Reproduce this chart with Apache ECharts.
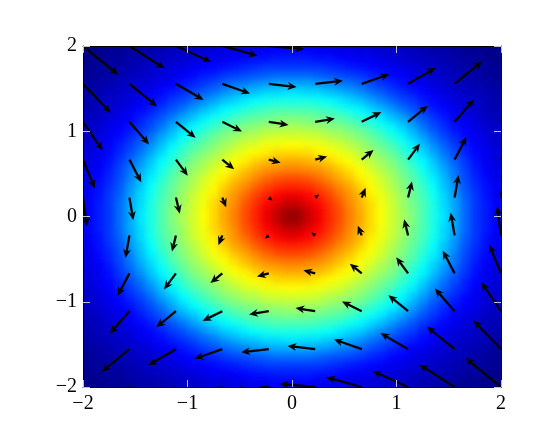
<!DOCTYPE html>
<html>
<head>
<meta charset="utf-8">
<script src="https://cdn.jsdelivr.net/npm/echarts@6/dist/echarts.min.js"></script>
<style>
html,body{margin:0;padding:0;background:#ffffff;}
#chart{width:540px;height:438px;}
</style>
</head>
<body>
<div id="chart"></div>
<script>
// Axis ticks
const xTickValues = [-2, -1, 0, 1, 2];
const yTickValues = [-2, -1, 0, 1, 2];

// Heatmap cell centres (x left->right, y top->bottom)
const cellX = [-1.95,-1.85,-1.75,-1.65,-1.55,-1.45,-1.35,-1.25,-1.15,-1.05,-0.95,-0.85,-0.75,-0.65,-0.55,-0.45,-0.35,-0.25,-0.15,-0.05,0.05,0.15,0.25,0.35,0.45,0.55,0.65,0.75,0.85,0.95,1.05,1.15,1.25,1.35,1.45,1.55,1.65,1.75,1.85,1.95];
const cellY = [1.95,1.85,1.75,1.65,1.55,1.45,1.35,1.25,1.15,1.05,0.95,0.85,0.75,0.65,0.55,0.45,0.35,0.25,0.15,0.05,-0.05,-0.15,-0.25,-0.35,-0.45,-0.55,-0.65,-0.75,-0.85,-0.95,-1.05,-1.15,-1.25,-1.35,-1.45,-1.55,-1.65,-1.75,-1.85,-1.95];

// Colour values (0..100), rows top -> bottom
const Z = [
[1,1,2,2,3,4,4,5,6,7,7,8,9,9,10,10,11,11,12,12,12,12,11,11,10,10,9,9,8,7,7,6,5,4,4,3,2,2,1,1],
[1,2,3,3,4,5,6,6,7,8,9,10,11,11,12,13,14,14,15,15,15,15,14,14,13,12,11,11,10,9,8,7,6,6,5,4,3,3,2,1],
[2,3,3,4,5,6,7,8,9,10,11,12,13,14,15,16,17,18,18,18,18,18,18,17,16,15,14,13,12,11,10,9,8,7,6,5,4,3,3,2],
[2,3,4,5,6,7,8,9,10,12,13,15,16,18,19,20,21,22,23,23,23,23,22,21,20,19,18,16,15,13,12,10,9,8,7,6,5,4,3,2],
[3,4,5,6,7,8,9,11,12,14,16,18,20,22,24,25,27,28,29,29,29,29,28,27,25,24,22,20,18,16,14,12,11,9,8,7,6,5,4,3],
[4,5,6,7,8,10,11,13,15,17,19,22,24,27,29,31,32,34,34,35,35,34,34,32,31,29,27,24,22,19,17,15,13,11,10,8,7,6,5,4],
[4,6,7,8,9,11,13,15,18,20,23,26,29,32,34,36,38,39,40,40,40,40,39,38,36,34,32,29,26,23,20,18,15,13,11,9,8,7,6,4],
[5,6,8,9,11,13,15,18,21,24,28,31,34,37,39,41,43,44,45,45,45,45,44,43,41,39,37,34,31,28,24,21,18,15,13,11,9,8,6,5],
[6,7,9,10,12,15,18,21,25,29,32,36,39,41,44,46,47,48,49,50,50,49,48,47,46,44,41,39,36,32,29,25,21,18,15,12,10,9,7,6],
[7,8,10,12,14,17,20,24,29,33,37,40,43,46,48,50,51,53,53,54,54,53,53,51,50,48,46,43,40,37,33,29,24,20,17,14,12,10,8,7],
[7,9,11,13,16,19,23,28,32,37,40,44,47,50,52,54,55,57,58,58,58,58,57,55,54,52,50,47,44,40,37,32,28,23,19,16,13,11,9,7],
[8,10,12,15,18,22,26,31,36,40,44,47,50,53,55,58,59,61,61,62,62,61,61,59,58,55,53,50,47,44,40,36,31,26,22,18,15,12,10,8],
[9,11,13,16,20,24,29,34,39,43,47,50,53,56,59,61,63,64,66,66,66,66,64,63,61,59,56,53,50,47,43,39,34,29,24,20,16,13,11,9],
[9,11,14,18,22,27,32,37,41,46,50,53,56,59,62,64,67,69,70,71,71,70,69,67,64,62,59,56,53,50,46,41,37,32,27,22,18,14,11,9],
[10,12,15,19,24,29,34,39,44,48,52,55,59,62,65,68,71,73,74,75,75,74,73,71,68,65,62,59,55,52,48,44,39,34,29,24,19,15,12,10],
[10,13,16,20,25,31,36,41,46,50,54,58,61,64,68,71,74,77,79,80,80,79,77,74,71,68,64,61,58,54,50,46,41,36,31,25,20,16,13,10],
[11,14,17,21,27,32,38,43,47,51,55,59,63,67,71,74,78,81,83,84,84,83,81,78,74,71,67,63,59,55,51,47,43,38,32,27,21,17,14,11],
[11,14,18,22,28,34,39,44,48,53,57,61,64,69,73,77,81,84,87,89,89,87,84,81,77,73,69,64,61,57,53,48,44,39,34,28,22,18,14,11],
[12,15,18,23,29,34,40,45,49,53,58,61,66,70,74,79,83,87,90,93,93,90,87,83,79,74,70,66,61,58,53,49,45,40,34,29,23,18,15,12],
[12,15,18,23,29,35,40,45,50,54,58,62,66,71,75,80,84,89,93,97,97,93,89,84,80,75,71,66,62,58,54,50,45,40,35,29,23,18,15,12],
[12,15,18,23,29,35,40,45,50,54,58,62,66,71,75,80,84,89,93,97,97,93,89,84,80,75,71,66,62,58,54,50,45,40,35,29,23,18,15,12],
[12,15,18,23,29,34,40,45,49,53,58,61,66,70,74,79,83,87,90,93,93,90,87,83,79,74,70,66,61,58,53,49,45,40,34,29,23,18,15,12],
[11,14,18,22,28,34,39,44,48,53,57,61,64,69,73,77,81,84,87,89,89,87,84,81,77,73,69,64,61,57,53,48,44,39,34,28,22,18,14,11],
[11,14,17,21,27,32,38,43,47,51,55,59,63,67,71,74,78,81,83,84,84,83,81,78,74,71,67,63,59,55,51,47,43,38,32,27,21,17,14,11],
[10,13,16,20,25,31,36,41,46,50,54,58,61,64,68,71,74,77,79,80,80,79,77,74,71,68,64,61,58,54,50,46,41,36,31,25,20,16,13,10],
[10,12,15,19,24,29,34,39,44,48,52,55,59,62,65,68,71,73,74,75,75,74,73,71,68,65,62,59,55,52,48,44,39,34,29,24,19,15,12,10],
[9,11,14,18,22,27,32,37,41,46,50,53,56,59,62,64,67,69,70,71,71,70,69,67,64,62,59,56,53,50,46,41,37,32,27,22,18,14,11,9],
[9,11,13,16,20,24,29,34,39,43,47,50,53,56,59,61,63,64,66,66,66,66,64,63,61,59,56,53,50,47,43,39,34,29,24,20,16,13,11,9],
[8,10,12,15,18,22,26,31,36,40,44,47,50,53,55,58,59,61,61,62,62,61,61,59,58,55,53,50,47,44,40,36,31,26,22,18,15,12,10,8],
[7,9,11,13,16,19,23,28,32,37,40,44,47,50,52,54,55,57,58,58,58,58,57,55,54,52,50,47,44,40,37,32,28,23,19,16,13,11,9,7],
[7,8,10,12,14,17,20,24,29,33,37,40,43,46,48,50,51,53,53,54,54,53,53,51,50,48,46,43,40,37,33,29,24,20,17,14,12,10,8,7],
[6,7,9,10,12,15,18,21,25,29,32,36,39,41,44,46,47,48,49,50,50,49,48,47,46,44,41,39,36,32,29,25,21,18,15,12,10,9,7,6],
[5,6,8,9,11,13,15,18,21,24,28,31,34,37,39,41,43,44,45,45,45,45,44,43,41,39,37,34,31,28,24,21,18,15,13,11,9,8,6,5],
[4,6,7,8,9,11,13,15,18,20,23,26,29,32,34,36,38,39,40,40,40,40,39,38,36,34,32,29,26,23,20,18,15,13,11,9,8,7,6,4],
[4,5,6,7,8,10,11,13,15,17,19,22,24,27,29,31,32,34,34,35,35,34,34,32,31,29,27,24,22,19,17,15,13,11,10,8,7,6,5,4],
[3,4,5,6,7,8,9,11,12,14,16,18,20,22,24,25,27,28,29,29,29,29,28,27,25,24,22,20,18,16,14,12,11,9,8,7,6,5,4,3],
[2,3,4,5,6,7,8,9,10,12,13,15,16,18,19,20,21,22,23,23,23,23,22,21,20,19,18,16,15,13,12,10,9,8,7,6,5,4,3,2],
[2,3,3,4,5,6,7,8,9,10,11,12,13,14,15,16,17,18,18,18,18,18,18,17,16,15,14,13,12,11,10,9,8,7,6,5,4,3,3,2],
[1,2,3,3,4,5,6,6,7,8,9,10,11,11,12,13,14,14,15,15,15,15,14,14,13,12,11,11,10,9,8,7,6,6,5,4,3,3,2,1],
[1,1,2,2,3,4,4,5,6,7,7,8,9,9,10,10,11,11,12,12,12,12,11,11,10,10,9,9,8,7,7,6,5,4,4,3,2,2,1,1]
];

// Quiver grid positions
const arrowX = [-2, -1.556, -1.111, -0.667, -0.222, 0.222, 0.667, 1.111, 1.556, 2];
const arrowY = [2, 1.556, 1.111, 0.667, 0.222, -0.222, -0.667, -1.111, -1.556, -2];

// Vector components, rows top -> bottom
const U = [
[2,2,2,2,2,2,2,2,2,2],
[1.56,1.56,1.56,1.56,1.56,1.56,1.56,1.56,1.56,1.56],
[1.11,1.11,1.11,1.11,1.11,1.11,1.11,1.11,1.11,1.11],
[0.67,0.67,0.67,0.67,0.67,0.67,0.67,0.67,0.67,0.67],
[0.22,0.22,0.22,0.22,0.22,0.22,0.22,0.22,0.22,0.22],
[-0.22,-0.22,-0.22,-0.22,-0.22,-0.22,-0.22,-0.22,-0.22,-0.22],
[-0.67,-0.67,-0.67,-0.67,-0.67,-0.67,-0.67,-0.67,-0.67,-0.67],
[-1.11,-1.11,-1.11,-1.11,-1.11,-1.11,-1.11,-1.11,-1.11,-1.11],
[-1.56,-1.56,-1.56,-1.56,-1.56,-1.56,-1.56,-1.56,-1.56,-1.56],
[-2,-2,-2,-2,-2,-2,-2,-2,-2,-2]
];
const V = [
[-2,-1.56,-1.11,-0.67,-0.22,0.22,0.67,1.11,1.56,2],
[-2,-1.56,-1.11,-0.67,-0.22,0.22,0.67,1.11,1.56,2],
[-2,-1.56,-1.11,-0.67,-0.22,0.22,0.67,1.11,1.56,2],
[-2,-1.56,-1.11,-0.67,-0.22,0.22,0.67,1.11,1.56,2],
[-2,-1.56,-1.11,-0.67,-0.22,0.22,0.67,1.11,1.56,2],
[-2,-1.56,-1.11,-0.67,-0.22,0.22,0.67,1.11,1.56,2],
[-2,-1.56,-1.11,-0.67,-0.22,0.22,0.67,1.11,1.56,2],
[-2,-1.56,-1.11,-0.67,-0.22,0.22,0.67,1.11,1.56,2],
[-2,-1.56,-1.11,-0.67,-0.22,0.22,0.67,1.11,1.56,2],
[-2,-1.56,-1.11,-0.67,-0.22,0.22,0.67,1.11,1.56,2]
];

const CELL = 0.1;          // cell size in data units
const ARROW_SCALE = 0.17;  // quiver scale (data units per vector unit)
const HEAD_LEN = 9;
const EDGE_EXT = 10;       // px the border cells are stretched outward (hidden by clipping)
const JET = ['#000080','#0000ff','#0080ff','#00ffff','#80ff80','#ffff00','#ff8000','#ff0000','#800000'];

const cellData = [];
for (let r = 0; r < cellY.length; r++) {
  for (let c = 0; c < cellX.length; c++) {
    cellData.push([cellX[c], cellY[r], Z[r][c]]);
  }
}
const arrowData = [];
for (let r = 0; r < arrowY.length; r++) {
  for (let c = 0; c < arrowX.length; c++) {
    arrowData.push([arrowX[c], arrowY[r], U[r][c], V[r][c]]);
  }
}

function renderCell(params, api) {
  const x = api.value(0), y = api.value(1);
  const p0 = api.coord([x - CELL / 2, y + CELL / 2]);
  const p1 = api.coord([x + CELL / 2, y - CELL / 2]);
  let x0 = p0[0], y0 = p0[1], x1 = p1[0] + 0.7, y1 = p1[1] + 0.7;
  if (x - CELL / 2 <= -2 + 1e-6) x0 -= EDGE_EXT;
  if (x + CELL / 2 >= 2 - 1e-6) x1 += EDGE_EXT;
  if (y + CELL / 2 >= 2 - 1e-6) y0 -= EDGE_EXT;
  if (y - CELL / 2 <= -2 + 1e-6) y1 += EDGE_EXT;
  return {
    type: 'rect',
    shape: { x: x0, y: y0, width: x1 - x0, height: y1 - y0 },
    style: { fill: api.visual('color') }
  };
}

function renderArrow(params, api) {
  const x = api.value(0), y = api.value(1), u = api.value(2), v = api.value(3);
  const p0 = api.coord([x, y]);
  const p1 = api.coord([x + ARROW_SCALE * u, y + ARROW_SCALE * v]);
  const dx = p1[0] - p0[0], dy = p1[1] - p0[1];
  const len = Math.hypot(dx, dy) || 1;
  const ux = dx / len, uy = dy / len;
  const nx = -uy, ny = ux;
  const hl = Math.min(HEAD_LEN, Math.max(5, len));
  const hw = hl * 0.44;
  const bx = p1[0] - ux * hl, by = p1[1] - uy * hl;
  const ix = p1[0] - ux * hl * 0.7, iy = p1[1] - uy * hl * 0.7;
  const children = [];
  if (len > hl * 0.7) {
    children.push({ type: 'line', shape: { x1: p0[0], y1: p0[1], x2: ix, y2: iy },
      style: { stroke: '#050505', lineWidth: 2.3, lineCap: 'butt' } });
  }
  children.push({ type: 'polygon',
    shape: { points: [[p1[0], p1[1]], [bx + nx * hw, by + ny * hw], [ix, iy], [bx - nx * hw, by - ny * hw]] },
    style: { fill: '#050505' } });
  return { type: 'group', children: children };
}

const labelFmt = function (v) { return v < 0 ? '\u2212' + Math.abs(v) : String(v); };
const FONT = 'Liberation Serif';
const tickStyle = { inside: true, length: 7, lineStyle: { color: 'rgba(225,225,235,0.85)', width: 1 } };
function mkX(pos, showLabel) {
  return {
    type: 'value', min: -2, max: 2, interval: 1, position: pos, zlevel: 1, z: 10,
    axisLine: { show: true, onZero: false, lineStyle: { color: '#000', width: 1 } },
    axisTick: tickStyle,
    axisLabel: { show: showLabel, formatter: labelFmt, fontFamily: FONT, fontSize: 20, color: '#000', margin: 7 },
    splitLine: { show: false }
  };
}
function mkY(pos, showLabel) {
  return {
    type: 'value', min: -2, max: 2, interval: 1, position: pos, zlevel: 1, z: 10,
    axisLine: { show: true, onZero: false, lineStyle: { color: '#000', width: 1 } },
    axisTick: tickStyle,
    axisLabel: { show: showLabel, formatter: labelFmt, fontFamily: FONT, fontSize: 20, color: '#000', margin: 6 },
    splitLine: { show: false }
  };
}

const chart = echarts.init(document.getElementById('chart'), null, { renderer: 'canvas' });
chart.setOption({
  animation: false,
  grid: { left: 83, top: 46, width: 418, height: 341, containLabel: false },
  xAxis: [mkX('bottom', true), mkX('top', false)],
  yAxis: [mkY('left', true), mkY('right', false)],
  visualMap: {
    type: 'continuous', show: false, min: 0, max: 100, dimension: 2, seriesIndex: 0,
    inRange: { color: JET }
  },
  series: [
    {
      type: 'custom', name: 'field', xAxisIndex: 0, yAxisIndex: 0, zlevel: 0,
      renderItem: renderCell, data: cellData, clip: false, z: 1,
      encode: { x: 0, y: 1 }, silent: true
    },
    {
      type: 'custom', name: 'arrows', xAxisIndex: 0, yAxisIndex: 0, zlevel: 1,
      renderItem: renderArrow, data: arrowData, clip: true, z: 3,
      encode: { x: 0, y: 1 }, silent: true
    }
  ]
});

// Smooth the colour field layer (shading like the original) and clip it to the plot box.
function smoothFieldLayer() {
  const layer = document.querySelector('#chart canvas[data-zr-dom-id="zr_0"]') ||
                document.querySelectorAll('#chart canvas')[0];
  if (layer) {
    layer.style.filter = 'blur(3px)';
    layer.style.clipPath = 'inset(46px 39px 51px 83px)';
  }
}
smoothFieldLayer();
chart.on('finished', smoothFieldLayer);
</script>
</body>
</html>
